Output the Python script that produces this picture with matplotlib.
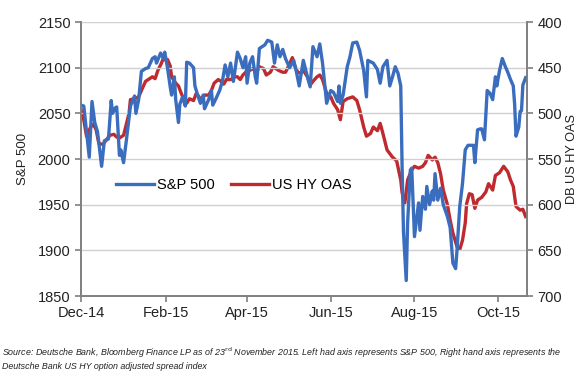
import pandas as pd
import matplotlib.pyplot as plt
import matplotlib.dates as mdates

plt.rcParams['font.family'] = ['Liberation Sans', 'DejaVu Sans']

start = pd.Timestamp('2014-12-01')

# S&P 500 (left axis): days since start, index level
sp_days = [0, 2, 4, 6, 8, 10, 12, 13, 15, 17, 20, 22, 23, 25, 26, 28, 29, 31, 33, 35,
           36, 39, 40, 42, 44, 47, 49, 52, 54, 55, 58, 60, 61, 63, 65, 66, 68, 69, 71, 72,
           74, 76, 77, 79, 82, 83, 85, 87, 89, 90, 93, 95, 96, 98, 101, 103, 105, 107, 109, 111,
           112, 114, 116, 118, 120, 121, 123, 125, 127, 128, 130, 134, 136, 139, 141, 143, 145, 147, 149, 152,
           155, 157, 159, 162, 165, 167, 169, 172, 174, 176, 179, 182, 184, 187, 188, 189, 191, 194, 196, 198,
           201, 203, 206, 208, 209, 213, 216, 218, 220, 223, 225, 227, 229, 231, 233, 234, 235, 237, 238, 240,
           241, 243, 246, 247, 249, 251, 252, 254, 256, 257, 258, 260, 262, 264, 267, 269, 271, 273, 274, 276,
           278, 280, 282, 284, 286, 287, 289, 291, 292, 294, 296, 298, 300, 302, 303, 305, 307, 309, 311, 313,
           315, 316, 317, 319, 320, 321, 322, 324]
sp_vals = [2059, 2058, 2030, 2002, 2063, 2040, 2030, 2017, 1992, 2020, 2022, 2064, 2050, 2056, 2057, 2004, 2010, 1996, 2020, 2045,
           2058, 2069, 2050, 2065, 2096, 2099, 2100, 2110, 2112, 2105, 2116, 2110, 2117, 2100, 2079, 2070, 2090, 2065, 2040, 2060,
           2068, 2058, 2106, 2105, 2100, 2080, 2070, 2061, 2070, 2055, 2065, 2075, 2059, 2065, 2075, 2085, 2103, 2090, 2105, 2085,
           2095, 2117, 2110, 2100, 2112, 2083, 2105, 2112, 2090, 2083, 2121, 2125, 2130, 2128, 2105, 2125, 2112, 2120, 2110, 2100,
           2108, 2095, 2080, 2108, 2090, 2079, 2123, 2112, 2126, 2105, 2061, 2075, 2073, 2063, 2080, 2061, 2070, 2101, 2112, 2127,
           2128, 2119, 2097, 2068, 2108, 2105, 2098, 2083, 2101, 2108, 2080, 2090, 2101, 2094, 2080, 1990, 1920, 1867, 1930, 1988,
           1990, 1915, 1952, 1922, 1959, 1945, 1970, 1950, 1965, 1955, 1984, 1955, 1968, 1950, 1937, 1925, 1886, 1880, 1900, 1948,
           1973, 2010, 2015, 2015, 2015, 1996, 2032, 2033, 2033, 2021, 2075, 2072, 2065, 2090, 2080, 2097, 2110, 2102, 2095, 2087,
           2080, 2060, 2025, 2035, 2052, 2053, 2081, 2089]

# DB US HY OAS (right axis, inverted): days since start, spread in bp
hy_days = [0, 2, 4, 7, 9, 11, 13, 16, 18, 21, 24, 26, 28, 31, 33, 35, 36, 39, 42, 44,
           47, 50, 52, 54, 56, 58, 60, 62, 63, 65, 66, 69, 71, 73, 75, 77, 79, 82, 84, 86,
           88, 90, 93, 95, 97, 100, 102, 104, 106, 109, 112, 114, 116, 118, 120, 123, 125, 128, 130, 133,
           135, 138, 140, 142, 144, 147, 149, 151, 154, 156, 158, 160, 162, 165, 167, 169, 172, 174, 176, 179,
           182, 184, 187, 189, 191, 194, 198, 201, 203, 206, 208, 211, 213, 216, 218, 220, 223, 225, 227, 230,
           233, 234, 236, 238, 241, 243, 246, 249, 251, 253, 256, 258, 260, 262, 264, 267, 269, 271, 274, 276,
           278, 280, 281, 283, 285, 287, 289, 292, 295, 297, 300, 302, 305, 308, 311, 313, 315, 317, 320, 322,
           324]
hy_vals = [496, 507, 525, 515, 512, 518, 533, 534, 530, 524, 523, 526, 527, 524, 512, 500, 485, 484, 482, 475,
           465, 462, 460, 462, 453, 447, 440, 442, 441, 448, 460, 467, 470, 478, 485, 489, 484, 486, 478, 482,
           486, 480, 480, 475, 467, 463, 465, 468, 463, 463, 460, 460, 463, 458, 455, 453, 451, 455, 449, 451,
           458, 455, 449, 451, 453, 455, 455, 449, 439, 449, 455, 456, 453, 460, 469, 465, 460, 458, 463, 478,
           482, 489, 496, 507, 487, 484, 482, 486, 496, 515, 525, 522, 515, 519, 511, 522, 540, 544, 548, 552,
           573, 587, 598, 573, 562, 558, 560, 558, 554, 546, 551, 548, 554, 566, 584, 600, 617, 631, 646, 649,
           639, 620, 599, 588, 589, 604, 595, 592, 586, 577, 584, 568, 565, 558, 564, 573, 580, 602, 606, 605,
           613]

tick_months = ['2014-12-01', '2015-02-01', '2015-04-01', '2015-06-01', '2015-08-01', '2015-10-01']

sp_dates = start + pd.to_timedelta(sp_days, unit='D')
hy_dates = start + pd.to_timedelta(hy_days, unit='D')

blue = '#3a6dbd'
red = '#be2a2e'
axis_grey = '#7f7f7f'

fig = plt.figure(figsize=(5.8, 3.73), dpi=100)
ax = fig.add_axes([0.1397, 0.2064, 0.7689, 0.7346])
ax2 = ax.twinx()

ax.plot(sp_dates, sp_vals, color=blue, lw=2.4, label='S&P 500', solid_joinstyle='round')
ax2.plot(hy_dates, hy_vals, color=red, lw=2.4, label='US HY OAS', solid_joinstyle='round')
ax.set_zorder(ax2.get_zorder() + 1)
ax.patch.set_visible(False)

ax.set_ylim(1850, 2150)
ax.set_yticks(range(1850, 2151, 50))
ax2.set_ylim(700, 400)
ax2.set_yticks(range(400, 701, 50))
ax.set_xlim(start, start + pd.Timedelta(days=325))
ax.set_xticks(pd.to_datetime(tick_months))
ax.xaxis.set_major_formatter(mdates.DateFormatter('%b-%y'))

ax.grid(axis='y', color='#d0d0d0', lw=1)
ax.set_axisbelow(True)

for a in (ax, ax2):
    a.spines['top'].set_visible(False)
    for s in ('left', 'right', 'bottom'):
        a.spines[s].set_color(axis_grey)
        a.spines[s].set_linewidth(1.2)
    a.tick_params(colors=axis_grey, labelcolor='#222222', labelsize=10.5, length=4, width=1.2)

ax.set_ylabel('S&P 500', fontsize=9.5, color='#222222', labelpad=6)
ax2.set_ylabel('DB US HY OAS', fontsize=9.2, color='#222222', labelpad=3)

h1, l1 = ax.get_legend_handles_labels()
h2, l2 = ax2.get_legend_handles_labels()
ax.legend(h1 + h2, l1 + l2, loc='center left', bbox_to_anchor=(0.05, 0.405), ncol=2,
          frameon=False, fontsize=10.5, handlelength=2.6, handletextpad=0.2, columnspacing=1.1)

fig.text(0.004, 0.012, 'Source: Deutsche Bank, Bloomberg Finance LP as of 23$^{\\rm rd}$ November 2015. '
         'Left had axis represents S&P 500, Right hand axis represents the\n'
         'Deutsche Bank US HY option adjusted spread index',
         fontsize=6.4, style='italic', color='#222222', linespacing=1.15)

fig.savefig('out.png', dpi=100)
